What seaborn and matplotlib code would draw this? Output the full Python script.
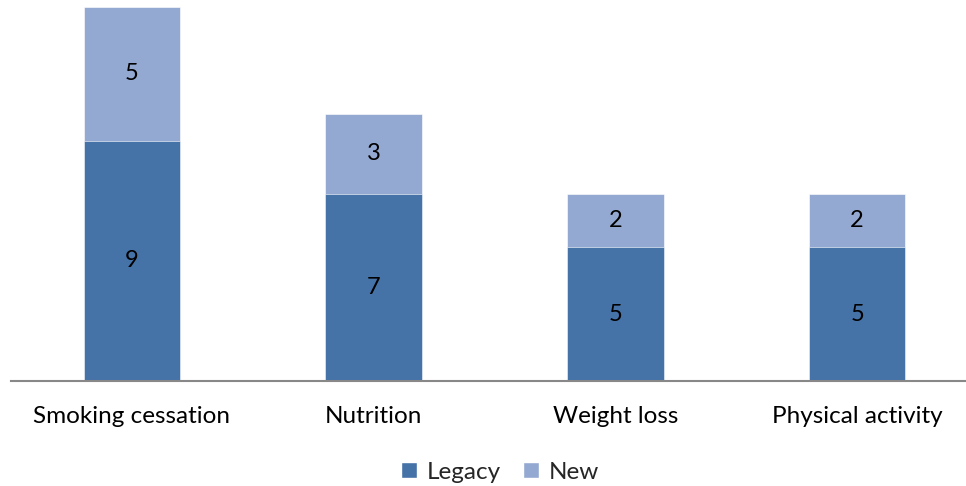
import matplotlib
matplotlib.use("Agg")
import matplotlib.pyplot as plt
import seaborn as sns
import pandas as pd
from matplotlib.patches import Patch

categories = ["Smoking cessation", "Nutrition", "Weight loss", "Physical activity"]
legacy = [9, 7, 5, 5]
new = [5, 3, 2, 2]

dark = "#4572A7"
light = "#93A9D1"

sns.set_theme(style="white")
plt.rcParams["font.family"] = ["Lato", "DejaVu Sans"]

df = pd.DataFrame({"category": categories, "Legacy": legacy, "New": new})
df["total"] = df["Legacy"] + df["New"]

fig = plt.figure(figsize=(9.66, 4.86), dpi=100)
ax = fig.add_axes([11 / 966, 1 - 381 / 486, 967 / 966, (381 - 7) / 486])

sns.barplot(data=df, x="category", y="total", color=light, saturation=1,
            width=0.4, ax=ax, edgecolor="white", linewidth=0.4)
sns.barplot(data=df, x="category", y="Legacy", color=dark, saturation=1,
            width=0.4, ax=ax, edgecolor="white", linewidth=0.4)

# value labels in the middle of each segment
for i, (l, n) in enumerate(zip(legacy, new)):
    ax.text(i, l / 2, str(l), ha="center", va="center", fontsize=17, color="black")
    ax.text(i, l + n / 2, str(n), ha="center", va="center", fontsize=17, color="black")

ax.set_ylim(0, 14)
ax.set_xlim(-0.5, 3.5)
ax.set_xlabel("")
ax.set_ylabel("")
ax.set_yticks([])
ax.tick_params(axis="x", labelsize=17.5, length=0, pad=18, colors="black")
for s in ["top", "right", "left"]:
    ax.spines[s].set_visible(False)
ax.spines["bottom"].set_color("#888888")
ax.spines["bottom"].set_linewidth(1.5)

handles = [Patch(facecolor=dark, label="Legacy"), Patch(facecolor=light, label="New")]
fig.legend(handles=handles, loc="center", bbox_to_anchor=(500 / 966, 1 - 472 / 486),
           ncol=2, frameon=False, fontsize=17.5, handlelength=0.65, handleheight=0.65,
           handletextpad=0.4, columnspacing=0.9)

fig.savefig("out.png", dpi=100)
